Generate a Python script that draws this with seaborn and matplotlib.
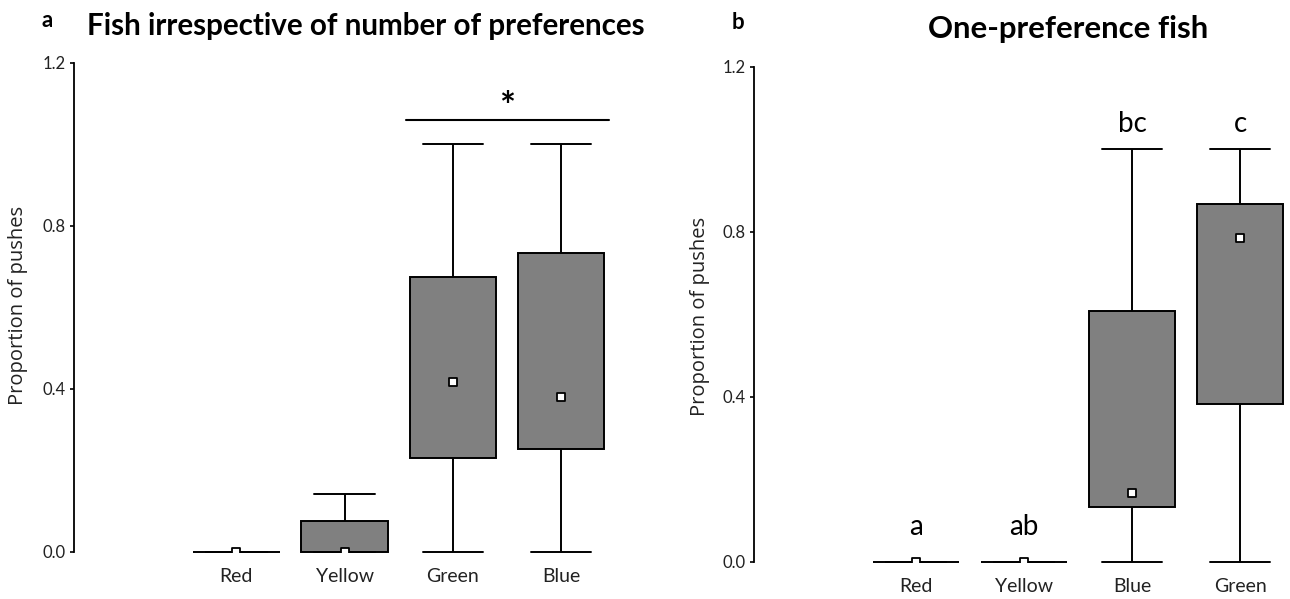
import numpy as np
import pandas as pd
import matplotlib
matplotlib.use("Agg")
import matplotlib.pyplot as plt
import seaborn as sns

# ---------------- data ----------------
cats_a = ["Red", "Yellow", "Green", "Blue"]
min_a = [0.0, 0.0, 0.0, 0.0]
q1_a = [0.0, 0.0, 0.229, 0.251]
med_a = [0.0, 0.0, 0.416, 0.380]
q3_a = [0.0, 0.075, 0.673, 0.734]
max_a = [0.0, 0.142, 1.0, 1.0]

cats_b = ["Red", "Yellow", "Blue", "Green"]
min_b = [0.0, 0.0, 0.0, 0.0]
q1_b = [0.0, 0.0, 0.133, 0.382]
med_b = [0.0, 0.0, 0.167, 0.784]
q3_b = [0.0, 0.0, 0.608, 0.867]
max_b = [0.0, 0.0, 1.0, 1.0]
letters_b = ["a", "ab", "bc", "c"]

yticks = [0.0, 0.4, 0.8, 1.2]
ytick_labels = ["0.0", "0.4", "0.8", "1.2"]

sns.set_theme(style="white")
plt.rcParams["font.family"] = ["Lato", "DejaVu Sans"]

W, H = 1290, 599
fig = plt.figure(figsize=(W / 100, H / 100), dpi=100)
fig.patch.set_facecolor("white")


def long_df(cats, mins, q1s, meds, q3s, maxs):
    rows = []
    for c, a, b, m, d, e in zip(cats, mins, q1s, meds, q3s, maxs):
        for v in (a, b, m, d, e):
            rows.append({"cat": c, "val": v})
    return pd.DataFrame(rows)


def draw_panel(ax, cats, mins, q1s, meds, q3s, maxs):
    df = long_df(cats, mins, q1s, meds, q3s, maxs)
    sns.boxplot(data=df, x="cat", y="val", order=cats, color="#808080",
                saturation=1, linecolor="black", linewidth=1.4, width=0.8,
                whis=(0, 100), showfliers=False, capwidths=0.56,
                medianprops={"visible": False}, ax=ax)
    for art in list(ax.patches) + list(ax.lines):
        art.set_clip_on(False)
    med_df = pd.DataFrame({"cat": cats, "val": meds})
    sns.stripplot(data=med_df, x="cat", y="val", order=cats, jitter=False,
                  marker="s", color="white", edgecolor="black", linewidth=1.3,
                  size=5.5, ax=ax, zorder=6)
    ax.set_xlim(-1.5, 3.6)
    ax.set_ylim(0, 1.2)
    ax.set_yticks(yticks)
    ax.set_yticklabels(ytick_labels, family=["Liberation Sans Narrow", "Lato"],
                       fontsize=12, color="#222222")
    ax.tick_params(axis="y", direction="out", length=3, width=1.2, pad=3,
                   left=True, color="black")
    ax.tick_params(axis="x", length=0, pad=12, labelsize=14, labelcolor="#222222")
    for s in ("top", "right", "bottom"):
        ax.spines[s].set_visible(False)
    ax.spines["left"].set_linewidth(1.3)
    ax.spines["left"].set_color("black")
    ax.set_xlabel("")
    ax.set_ylabel("")
    ax.set_facecolor("white")
    ax.grid(False)


ax_a = fig.add_axes([74 / W, (H - 551.7) / H, 552 / W, (551.7 - 62.7) / H])
draw_panel(ax_a, cats_a, min_a, q1_a, med_a, q3_a, max_a)
ax_b = fig.add_axes([754 / W, (H - 561.7) / H, 551 / W, (561.7 - 66.7) / H])
draw_panel(ax_b, cats_b, min_b, q1_b, med_b, q3_b, max_b)

# significance bar on panel a
ax_a.plot([1.57, 3.44], [1.06, 1.06], color="black", lw=1.5, clip_on=False)
ax_a.text(2.5, 1.062, "*", ha="center", va="baseline", fontsize=27,
          fontweight="bold", color="black", clip_on=False)

# letters on panel b
for i, lab in enumerate(letters_b):
    y = max_b[i] + (0.042 if max_b[i] > 0 else 0.065)
    ax_b.text(i, y, lab, ha="center", va="baseline", fontsize=20, color="black")

# y labels
fig.text(18 / W, 1 - 305 / H, "Proportion of pushes", rotation=90, ha="center",
         va="center", fontsize=14.5, family=["Open Sans", "DejaVu Sans"], color="#222222")
fig.text(700 / W, 1 - 316 / H, "Proportion of pushes", rotation=90, ha="center",
         va="center", fontsize=14.5, family=["Open Sans", "DejaVu Sans"], color="#222222")

# titles and panel letters
fig.text(42 / W, 1 - 27 / H, "a", ha="left", va="baseline", fontsize=16,
         fontweight="bold", color="black")
fig.text(732 / W, 1 - 29 / H, "b", ha="left", va="baseline", fontsize=16,
         fontweight="bold", color="black")
fig.text(87 / W, 1 - 35 / H, "Fish irrespective of number of preferences",
         ha="left", va="baseline", fontsize=21.3, fontweight="bold", color="black")
fig.text(1068 / W, 1 - 38 / H, "One-preference fish", ha="center", va="baseline",
         fontsize=22.4, fontweight="bold", color="black")

fig.savefig("out.png", dpi=100, facecolor="white")
